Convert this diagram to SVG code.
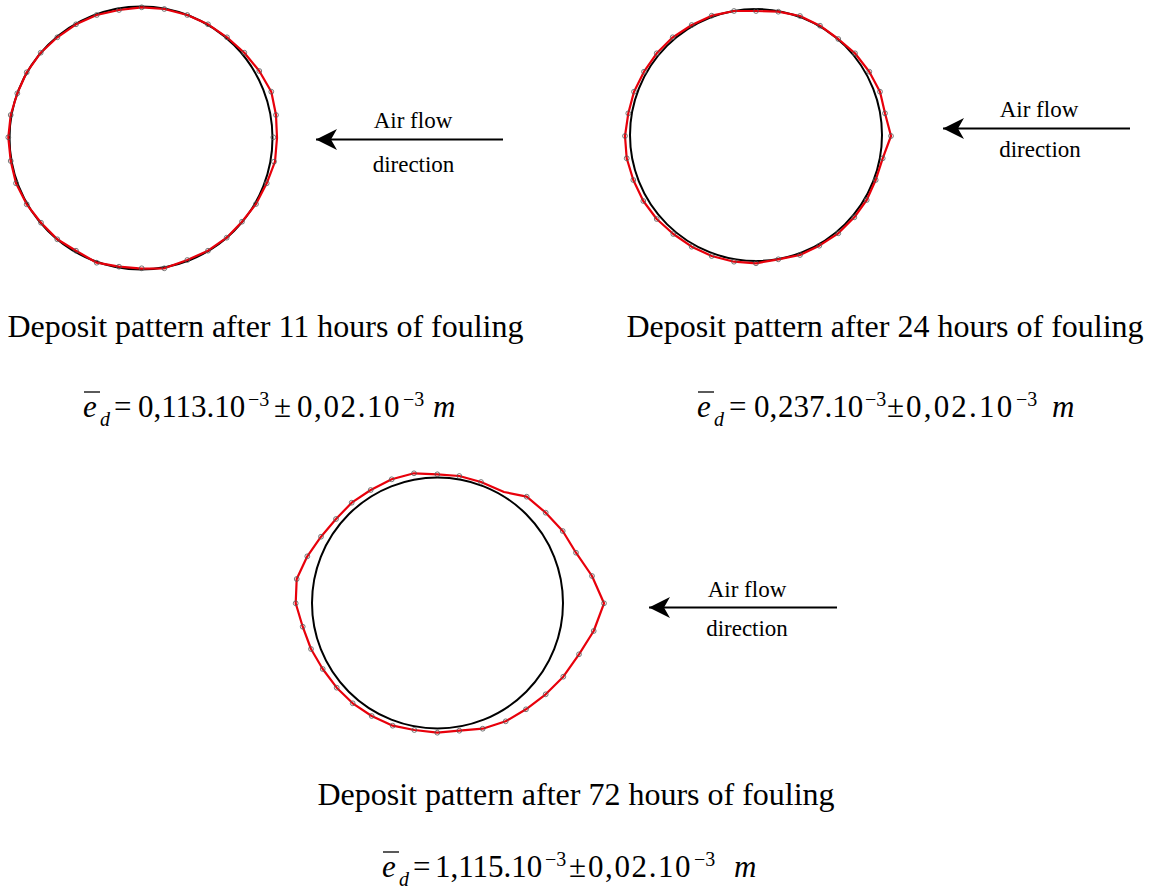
<svg xmlns="http://www.w3.org/2000/svg" xmlns:xlink="http://www.w3.org/1999/xlink" width="1153" height="891" viewBox="0 0 1153 891">
<style>
.tube{fill:none;stroke:#000;stroke-width:2}
.dep{fill:none;stroke:#e8000b;stroke-width:2.2;stroke-linejoin:round}
.pt{fill:none;stroke:#555;stroke-width:0.8}
.flow{stroke:#000;stroke-width:2;fill:none}
.lbl{font-family:"Liberation Serif","Times New Roman",serif;font-size:23px;fill:#000;text-anchor:middle}
.cap{font-family:"Liberation Serif","Times New Roman",serif;font-size:32px;fill:#000;text-anchor:middle}
.fm{font-family:"Liberation Serif","Times New Roman",serif;font-size:31px;fill:#000}
.fi{font-family:"Liberation Serif","Times New Roman",serif;font-size:31px;font-style:italic;fill:#000}
.fs{font-family:"Liberation Serif","Times New Roman",serif;font-size:20px;fill:#000}
.fsi{font-family:"Liberation Serif","Times New Roman",serif;font-size:20px;font-style:italic;fill:#000}
.ls{letter-spacing:1.6px}
.bar{stroke:#000;stroke-width:1.3}
</style>
<defs>
<marker id="ah" markerUnits="userSpaceOnUse" viewBox="-22 -12 24 24" markerWidth="24" markerHeight="24" refX="0" refY="0" orient="auto">
<path d="M0,0 L-21,-10.5 L-15,0 L-21,10.5 Z" fill="#000"/>
</marker>
<circle id="p" r="2.4" class="pt"/>
</defs>
<rect width="1153" height="891" fill="#fff"/>

<g id="tube-11h">
<circle class="tube" cx="141" cy="138" r="131.5"/>
<polygon class="dep" points="141.7,7.3 164.3,9 187.3,15 208,24.3 227,37.3 244.3,52.7 259.3,71 271.3,91.7 276,115 277,138 275,161.7 266.7,183.3 256,204 242,221.7 226.7,237.7 208,250.7 187.3,260 164.3,268.3 141.7,268.7 119,266.7 96.7,262.7 76,250.7 57.3,239.3 41,222.7 26.7,204.3 16,183.3 10.7,161 8.3,137.3 10.7,115 17.3,93.3 26.7,72.3 40.7,52.7 57.3,37.3 76,24.3 96.7,15 119,10"/>
<g>
<use xlink:href="#p" x="141.7" y="7.3"/><use xlink:href="#p" x="164.3" y="9"/><use xlink:href="#p" x="187.3" y="15"/><use xlink:href="#p" x="208" y="24.3"/><use xlink:href="#p" x="227" y="37.3"/><use xlink:href="#p" x="244.3" y="52.7"/><use xlink:href="#p" x="259.3" y="71"/><use xlink:href="#p" x="271.3" y="91.7"/><use xlink:href="#p" x="276" y="115"/><use xlink:href="#p" x="273.3" y="137.3"/><use xlink:href="#p" x="274" y="161.7"/><use xlink:href="#p" x="266.7" y="183.3"/><use xlink:href="#p" x="256" y="204"/><use xlink:href="#p" x="242" y="221.7"/><use xlink:href="#p" x="226.7" y="237.7"/><use xlink:href="#p" x="208" y="250.7"/><use xlink:href="#p" x="187.3" y="260"/><use xlink:href="#p" x="164.3" y="268.3"/><use xlink:href="#p" x="141.7" y="268.3"/><use xlink:href="#p" x="119" y="266.7"/><use xlink:href="#p" x="96.7" y="262.7"/><use xlink:href="#p" x="76" y="250.7"/><use xlink:href="#p" x="57.3" y="239.3"/><use xlink:href="#p" x="41" y="222.7"/><use xlink:href="#p" x="26.7" y="204.3"/><use xlink:href="#p" x="16" y="183.3"/><use xlink:href="#p" x="10.7" y="161"/><use xlink:href="#p" x="8.3" y="137.3"/><use xlink:href="#p" x="10.7" y="115"/><use xlink:href="#p" x="17.3" y="93.3"/><use xlink:href="#p" x="26.7" y="72.3"/><use xlink:href="#p" x="40.7" y="52.7"/><use xlink:href="#p" x="57.3" y="37.3"/><use xlink:href="#p" x="76" y="24.3"/><use xlink:href="#p" x="96.7" y="15"/><use xlink:href="#p" x="119" y="10"/>
</g>
</g>

<g id="tube-24h">
<circle class="tube" cx="756" cy="135" r="126"/>
<polygon class="dep" points="756,11 778.3,11.7 800,16 820,25.7 838.3,39 855,53.3 869.3,71.7 880,91.7 885,113.3 891,136 882.7,158.3 875.7,180 866.7,200 854.3,217.3 838.3,233.3 819.3,245.7 800,255 778.3,259.3 756,263.3 734,261.7 711.7,256 691.7,246.7 673.3,234 656.7,219 643.3,201 633.3,180 626.7,158.3 625,136 628.3,113.3 634,91.7 644,71.7 656.7,53.3 672.7,37.3 691.7,25 711.7,15.7 734,11"/>
<g>
<use xlink:href="#p" x="756" y="11"/><use xlink:href="#p" x="778.3" y="11.7"/><use xlink:href="#p" x="800" y="16"/><use xlink:href="#p" x="820" y="25.7"/><use xlink:href="#p" x="838.3" y="39"/><use xlink:href="#p" x="855" y="53.3"/><use xlink:href="#p" x="869.3" y="71.7"/><use xlink:href="#p" x="880" y="91.7"/><use xlink:href="#p" x="885" y="113.3"/><use xlink:href="#p" x="891" y="136"/><use xlink:href="#p" x="882.7" y="158.3"/><use xlink:href="#p" x="875.7" y="180"/><use xlink:href="#p" x="866.7" y="200"/><use xlink:href="#p" x="854.3" y="217.3"/><use xlink:href="#p" x="838.3" y="233.3"/><use xlink:href="#p" x="819.3" y="245.7"/><use xlink:href="#p" x="800" y="255"/><use xlink:href="#p" x="778.3" y="259.3"/><use xlink:href="#p" x="756" y="263.3"/><use xlink:href="#p" x="734" y="261.7"/><use xlink:href="#p" x="711.7" y="256"/><use xlink:href="#p" x="691.7" y="246.7"/><use xlink:href="#p" x="673.3" y="234"/><use xlink:href="#p" x="656.7" y="219"/><use xlink:href="#p" x="643.3" y="201"/><use xlink:href="#p" x="633.3" y="180"/><use xlink:href="#p" x="626.7" y="158.3"/><use xlink:href="#p" x="625" y="136"/><use xlink:href="#p" x="628.3" y="113.3"/><use xlink:href="#p" x="634" y="91.7"/><use xlink:href="#p" x="644" y="71.7"/><use xlink:href="#p" x="656.7" y="53.3"/><use xlink:href="#p" x="672.7" y="37.3"/><use xlink:href="#p" x="691.7" y="25"/><use xlink:href="#p" x="711.7" y="15.7"/><use xlink:href="#p" x="734" y="11"/>
</g>
</g>

<g id="tube-72h">
<circle class="tube" cx="437.5" cy="603" r="125.5"/>
<polygon class="dep" points="414,473.3 437.3,474.3 459.3,476 481,482 504,492 526.7,496.7 545.7,512.7 562.7,531 576,552.7 592,576 604,603.3 593.7,631 579,654.3 563.3,676.7 545.7,694.3 526,709.3 505.7,721.3 482.7,728.7 459.3,730.7 437.3,732.7 414.3,730 392.7,725.7 371.7,716 352.7,703.3 336.7,687.7 322.7,669 311,649 302.7,626.7 295.7,603.3 296.7,579 307.3,556.3 321,536.7 336,519 351.7,502.7 370.7,490 391.7,479.3"/>
<g>
<use xlink:href="#p" x="414" y="473.3"/><use xlink:href="#p" x="437.3" y="474.3"/><use xlink:href="#p" x="459.3" y="476"/><use xlink:href="#p" x="481" y="482"/><use xlink:href="#p" x="526.7" y="496.7"/><use xlink:href="#p" x="545.7" y="512.7"/><use xlink:href="#p" x="562.7" y="531"/><use xlink:href="#p" x="576" y="552.7"/><use xlink:href="#p" x="592" y="576"/><use xlink:href="#p" x="604" y="603.3"/><use xlink:href="#p" x="593.7" y="631"/><use xlink:href="#p" x="579" y="654.3"/><use xlink:href="#p" x="563.3" y="676.7"/><use xlink:href="#p" x="545.7" y="694.3"/><use xlink:href="#p" x="526" y="709.3"/><use xlink:href="#p" x="505.7" y="721.3"/><use xlink:href="#p" x="482.7" y="728.7"/><use xlink:href="#p" x="459.3" y="730.7"/><use xlink:href="#p" x="437.3" y="732.7"/><use xlink:href="#p" x="414.3" y="730"/><use xlink:href="#p" x="392.7" y="725.7"/><use xlink:href="#p" x="371.7" y="716"/><use xlink:href="#p" x="352.7" y="703.3"/><use xlink:href="#p" x="336.7" y="687.7"/><use xlink:href="#p" x="322.7" y="669"/><use xlink:href="#p" x="311" y="649"/><use xlink:href="#p" x="302.7" y="626.7"/><use xlink:href="#p" x="295.7" y="603.3"/><use xlink:href="#p" x="296.7" y="579"/><use xlink:href="#p" x="307.3" y="556.3"/><use xlink:href="#p" x="321" y="536.7"/><use xlink:href="#p" x="336" y="519"/><use xlink:href="#p" x="351.7" y="502.7"/><use xlink:href="#p" x="370.7" y="490"/><use xlink:href="#p" x="391.7" y="479.3"/>
</g>
</g>

<g id="connectors">
<line class="flow" x1="503" y1="139.5" x2="316" y2="139.5" marker-end="url(#ah)"/>
<line class="flow" x1="1130" y1="128.5" x2="943" y2="128.5" marker-end="url(#ah)"/>
<line class="flow" x1="837" y1="607.5" x2="649" y2="607.5" marker-end="url(#ah)"/>
</g>

<g id="label-flow-1">
<text class="lbl" x="413" y="128">Air flow</text>
<text class="lbl" x="413.5" y="171.5">direction</text>
</g>
<g id="label-flow-2">
<text class="lbl" x="1039" y="117">Air flow</text>
<text class="lbl" x="1040" y="156.5">direction</text>
</g>
<g id="label-flow-3">
<text class="lbl" x="747" y="596.5">Air flow</text>
<text class="lbl" x="747" y="635.5">direction</text>
</g>

<g id="caption-11h">
<text class="cap" x="265.5" y="337">Deposit pattern after 11 hours of fouling</text>
</g>
<g id="caption-24h">
<text class="cap" x="885" y="337">Deposit pattern after 24 hours of fouling</text>
</g>
<g id="caption-72h">
<text class="cap" x="576" y="805">Deposit pattern after 72 hours of fouling</text>
</g>

<g id="formula-11h">
<line class="bar" x1="84" y1="392" x2="100" y2="392"/>
<text class="fi" x="83" y="417">e</text>
<text class="fsi" x="100" y="426">d</text>
<text class="fm" x="114" y="417">=</text>
<text class="fm" x="138" y="417">0,113.10</text>
<text class="fs" x="248" y="406">−3</text>
<text class="fm" x="274" y="417">±</text>
<text class="fm ls" x="297" y="417">0,02.10</text>
<text class="fs" x="403" y="406">−3</text>
<text class="fi" x="433" y="417">m</text>
</g>

<g id="formula-24h">
<line class="bar" x1="698" y1="392" x2="714" y2="392"/>
<text class="fi" x="697" y="417">e</text>
<text class="fsi" x="714" y="426">d</text>
<text class="fm" x="729" y="417">=</text>
<text class="fm" x="754" y="417">0,</text>
<text class="fm" x="778" y="417">237.10</text>
<text class="fs" x="865" y="406">−3</text>
<text class="fm" x="887" y="417">±</text>
<text class="fm" x="906" y="417" style="letter-spacing:2.2px">0,02.10</text>
<text class="fs" x="1016" y="406">−3</text>
<text class="fi" x="1052" y="417">m</text>
</g>

<g id="formula-72h">
<line class="bar" x1="383" y1="852" x2="399" y2="852"/>
<text class="fi" x="382" y="877">e</text>
<text class="fsi" x="399" y="886">d</text>
<text class="fm" x="413" y="877">=</text>
<text class="fm" x="435" y="877">1,115.10</text>
<text class="fs" x="545" y="866">−3</text>
<text class="fm" x="569" y="877">±</text>
<text class="fm ls" x="588" y="877">0,02.10</text>
<text class="fs" x="694" y="866">−3</text>
<text class="fi" x="734" y="877">m</text>
</g>
</svg>
